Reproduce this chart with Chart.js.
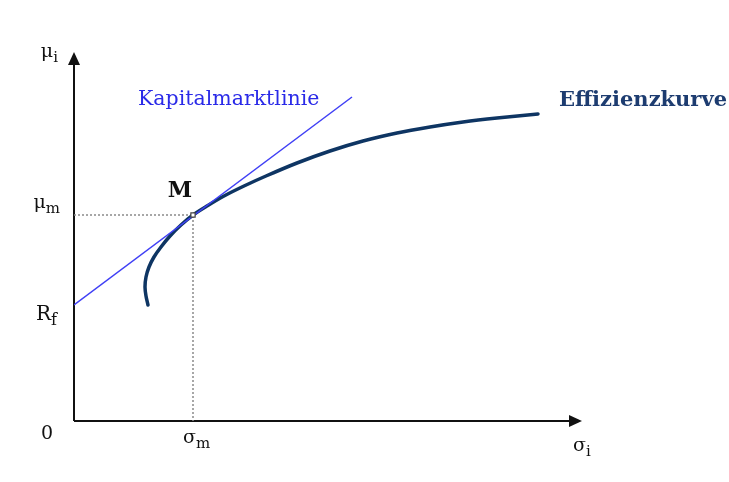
<!DOCTYPE html>
<html>
<head>
<meta charset="utf-8">
<script src="https://cdn.jsdelivr.net/npm/chart.js@4.4.1/dist/chart.umd.min.js"></script>
<style>
  html, body { margin: 0; padding: 0; background: #fff; }
  #wrap { width: 729px; height: 482px; }
</style>
</head>
<body>
<div id="wrap"><canvas id="capmChart" width="729" height="482"></canvas></div>
<script>
// axis extents (sigma, mu)
const axisMax = [508, 369];

// efficient frontier (sigma, mu)
const frontierSigma = [74, 72, 71, 72, 75, 80, 87, 96, 107, 119, 133, 150, 170, 192, 223, 256, 289, 323, 356, 389, 423, 464];
const frontierMu    = [116, 125, 134, 144, 154, 164, 174, 185, 196, 206, 215, 225, 235, 245, 258, 270, 280, 288, 294, 299, 303, 307];

// capital market line: from Rf to its end
const cmlSigma = [0, 278];
const cmlMu    = [116, 324];

// market portfolio M and risk free rate
const marketSigma = 119;
const marketMu = 206;
const riskFree = 116;

// texts
const tickLabels = { zero: '0', rf: ['R', 'f'], mum: ['μ', 'm'], sigm: ['σ', 'm'] };
const axisTitles = { y: ['μ', 'i'], x: ['σ', 'i'] };
const seriesNames = ['Kapitalmarktlinie', 'Effizienzkurve'];

const toPoints = (xs, ys) => xs.map((x, i) => ({ x: x, y: ys[i] }));

function drawSub(ctx, parts, x, y, align, size) {
  const subSize = Math.round(size * 0.8);
  ctx.font = size + 'px "DejaVu Serif"';
  const w1 = ctx.measureText(parts[0]).width;
  ctx.font = subSize + 'px "DejaVu Serif"';
  const w2 = ctx.measureText(parts[1]).width;
  let x0 = x;
  if (align === 'right') x0 = x - w1 - w2;
  if (align === 'center') x0 = x - (w1 + w2) / 2;
  ctx.textAlign = 'left';
  ctx.textBaseline = 'alphabetic';
  ctx.font = size + 'px "DejaVu Serif"';
  ctx.fillText(parts[0], x0, y);
  ctx.font = subSize + 'px "DejaVu Serif"';
  ctx.fillText(parts[1], x0 + w1, y + 5);
}

const axesPlugin = {
  id: 'axesPlugin',
  beforeDatasetsDraw(chart) {
    const ctx = chart.ctx;
    const xs = chart.scales.x, ys = chart.scales.y;
    const x0 = xs.getPixelForValue(0), y0 = ys.getPixelForValue(0);
    const xEnd = xs.getPixelForValue(axisMax[0]), yEnd = ys.getPixelForValue(axisMax[1]);
    ctx.save();
    ctx.strokeStyle = '#111';
    ctx.fillStyle = '#111';
    ctx.lineWidth = 2;
    ctx.beginPath();
    ctx.moveTo(x0, y0);
    ctx.lineTo(x0, yEnd + 10);
    ctx.moveTo(x0, y0);
    ctx.lineTo(xEnd - 10, y0);
    ctx.stroke();
    // arrow heads
    ctx.beginPath();
    ctx.moveTo(x0, yEnd);
    ctx.lineTo(x0 - 6, yEnd + 13);
    ctx.lineTo(x0 + 6, yEnd + 13);
    ctx.closePath();
    ctx.fill();
    ctx.beginPath();
    ctx.moveTo(xEnd, y0);
    ctx.lineTo(xEnd - 13, y0 - 6);
    ctx.lineTo(xEnd - 13, y0 + 6);
    ctx.closePath();
    ctx.fill();
    ctx.restore();
  },
  afterDraw(chart) {
    const ctx = chart.ctx;
    const xs = chart.scales.x, ys = chart.scales.y;
    const left = xs.getPixelForValue(0), bottom = ys.getPixelForValue(0);
    const right = xs.getPixelForValue(axisMax[0]), top = ys.getPixelForValue(axisMax[1]);
    const mx = xs.getPixelForValue(marketSigma), my = ys.getPixelForValue(marketMu);
    ctx.save();
    ctx.fillStyle = '#111';
    drawSub(ctx, axisTitles.y, left - 16, top + 5, 'right', 19);
    drawSub(ctx, axisTitles.x, right - 9, bottom + 30, 'left', 19);
    ctx.font = '19px "DejaVu Serif"';
    ctx.textAlign = 'right';
    ctx.fillText(tickLabels.zero, left - 21, bottom + 18);
    drawSub(ctx, tickLabels.rf, left - 17, ys.getPixelForValue(riskFree) + 15, 'right', 20);
    drawSub(ctx, tickLabels.mum, left - 14, my - 7, 'right', 19);
    drawSub(ctx, tickLabels.sigm, mx - 10, bottom + 22, 'left', 19);
    // M label
    ctx.font = 'bold 22px "DejaVu Serif"';
    ctx.textAlign = 'right';
    ctx.fillText('M', mx - 1, my - 18);
    // series names
    ctx.font = '20.5px "DejaVu Serif"';
    ctx.fillStyle = '#2a2ae8';
    ctx.textAlign = 'left';
    ctx.fillText(seriesNames[0], 138, 105);
    ctx.font = 'bold 21px "DejaVu Serif"';
    ctx.fillStyle = '#1d3c70';
    ctx.textAlign = 'right';
    ctx.fillText(seriesNames[1], 727, 106);
    ctx.restore();
  }
};

const ctx = document.getElementById('capmChart').getContext('2d');
new Chart(ctx, {
  type: 'scatter',
  data: {
    datasets: [
      {
        label: 'M',
        data: [{ x: marketSigma, y: marketMu }],
        pointStyle: 'rect',
        pointRadius: 3,
        pointBackgroundColor: '#fff',
        pointBorderColor: '#444',
        pointBorderWidth: 1.2,
        showLine: false,
        order: 0
      },
      {
        label: seriesNames[0],
        data: toPoints(cmlSigma, cmlMu),
        showLine: true,
        borderColor: '#4040f5',
        borderWidth: 1.5,
        pointRadius: 0,
        order: 1
      },
      {
        label: seriesNames[1],
        data: toPoints(frontierSigma, frontierMu),
        showLine: true,
        borderColor: '#0e3563',
        borderWidth: 3.5,
        borderCapStyle: 'round',
        tension: 0.3,
        pointRadius: 0,
        order: 2
      },
      {
        label: 'guides',
        data: [{ x: 0, y: marketMu }, { x: marketSigma, y: marketMu }, { x: marketSigma, y: 0 }],
        showLine: true,
        borderColor: '#8a8a8a',
        borderWidth: 1.5,
        borderDash: [2, 2],
        pointRadius: 0,
        order: 3
      }
    ]
  },
  options: {
    responsive: false,
    animation: false,
    layout: { padding: { left: 74, right: 147, top: 52, bottom: 61 } },
    plugins: { legend: { display: false }, tooltip: { enabled: false } },
    scales: {
      x: { type: 'linear', min: 0, max: axisMax[0], display: false },
      y: { type: 'linear', min: 0, max: axisMax[1], display: false }
    }
  },
  plugins: [axesPlugin]
});
</script>
</body>
</html>
